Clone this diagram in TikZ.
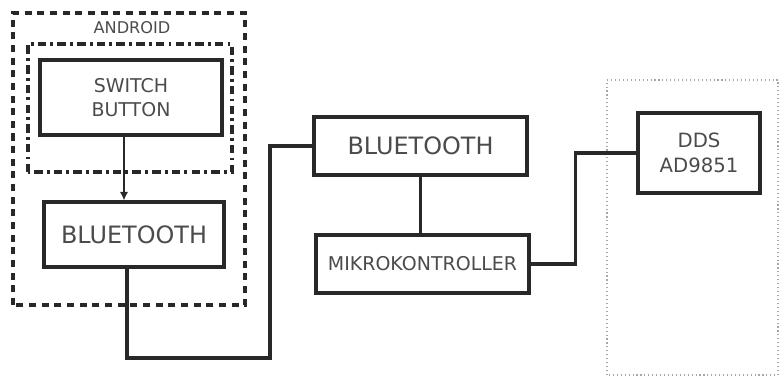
\documentclass[tikz,border=0pt]{standalone}
\usepackage{fontspec}
\setsansfont{DejaVu Sans}
\usepackage{tikz}
\usetikzlibrary{
  arrows.meta,
  positioning
}
\definecolor{lineGray}{RGB}{40, 40, 40}
\definecolor{textGray}{RGB}{75, 75, 75}

\begin{document}
\begin{tikzpicture}[
    font=\sffamily,
    box/.style={rectangle, draw=lineGray, line width=2.3pt, align=center, text=textGray, inner sep=2pt},
    wire/.style={draw=lineGray, line width=2.4pt},
    arrow/.style={-{Latex[length=6pt, width=6pt]}, draw=lineGray, line width=2pt}
]
    \useasboundingbox (0,0) rectangle (19.475,9.45);

    % android group
    \draw[lineGray, line width=2.3pt, dash pattern=on 5pt off 4pt] (0.325,1.825) rectangle (6.125,9.125);
    \node[text=textGray, font=\sffamily\fontsize{11.5}{13}\selectfont] (android) at (3.3,8.75) {ANDROID};
    \draw[lineGray, line width=2.4pt, dash pattern=on 6pt off 3pt on 2pt off 3pt] (0.7,5.15) rectangle (5.8,8.35);

    \node[box, minimum width=4.55cm, minimum height=1.875cm, font=\sffamily\fontsize{13.5}{17}\selectfont] (switch) at (3.275,7.0125) {SWITCH\\BUTTON};
    \node[box, minimum width=4.5cm, minimum height=1.625cm, font=\sffamily\fontsize{17}{20}\selectfont] (btLeft) at (3.35,3.5875) {BLUETOOTH};

    % receiver side
    \node[box, minimum width=5.325cm, minimum height=1.45cm, font=\sffamily\fontsize{17}{20}\selectfont] (btCenter) at (10.5125,5.8) {BLUETOOTH};
    \node[box, minimum width=5.325cm, minimum height=1.45cm, font=\sffamily\fontsize{13.5}{16}\selectfont] (mikro) at (10.5625,2.85) {MIKROKONTROLLER};

    % dds group
    \draw[gray!70, line width=0.8pt, dotted] (15.175,0.075) rectangle (19.45,7.45);
    \node[box, minimum width=3.05cm, minimum height=2.0cm, font=\sffamily\fontsize{14}{18}\selectfont] (dds) at (17.475,5.625) {DDS\\AD9851};

    \coordinate (bendLow) at (6.75,0.5);

    \draw[arrow] ([xshift=-0.175cm]switch.south) -- ([xshift=-0.175cm]switch.south |- btLeft.north);
    \draw[wire] ([xshift=-0.175cm]btLeft.south) |- (bendLow) |- (btCenter.west);
    \draw[wire] (btCenter.south) -- (mikro.north -| btCenter.south);
    \draw[wire] (mikro.east) -- ++(1.125,0) |- (dds.west);

\end{tikzpicture}
\end{document}
